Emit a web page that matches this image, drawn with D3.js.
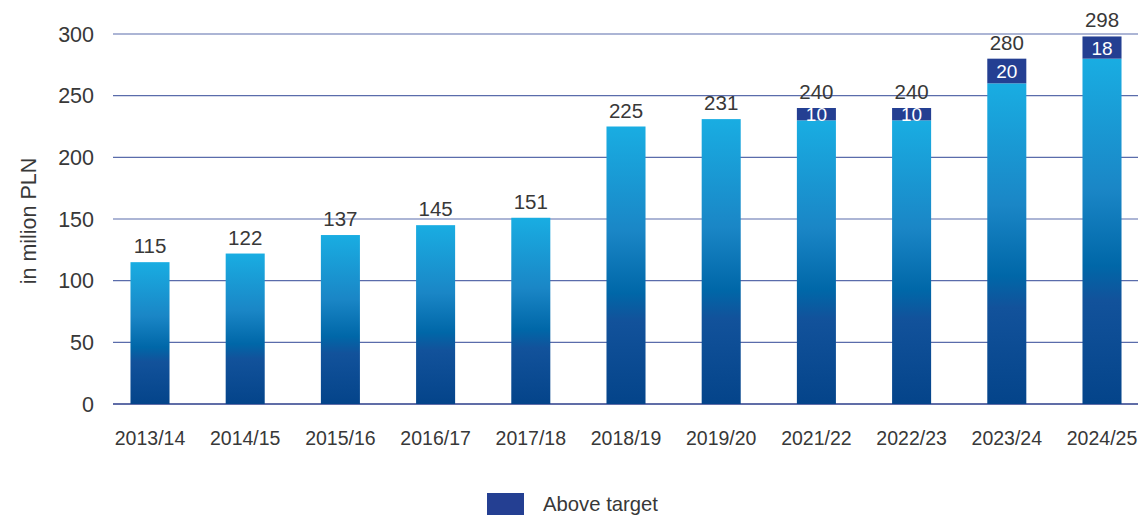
<!DOCTYPE html>
<html><head><meta charset="utf-8">
<script src="https://cdn.jsdelivr.net/npm/d3@7"></script>
<style>body{margin:0;background:#fff}text{font-family:"Liberation Sans",Arial,sans-serif}</style>
</head><body><svg id="c" width="1147" height="515"></svg>
<script>
const categories = ["2013/14","2014/15","2015/16","2016/17","2017/18","2018/19","2019/20","2021/22","2022/23","2023/24","2024/25"];
const totals = [115,122,137,145,151,225,231,240,240,280,298];
const aboveTarget = [0,0,0,0,0,0,0,10,10,20,18];
const yTicks = [0,50,100,150,200,250,300];

const svg = d3.select("#c");
const x = d3.scaleBand().domain(categories).range([102.4, 1149.6]).paddingInner(0.59).paddingOuter(0.295);
const y = d3.scaleLinear().domain([0,300]).range([404,34]);

const defs = svg.append("defs");
const g = defs.append("linearGradient").attr("id","bg").attr("x1",0).attr("y1",0).attr("x2",0).attr("y2",1);
[[0,"#19ade2"],[0.38,"#1a86c6"],[0.6,"#0067a8"],[0.7,"#12529b"],[1,"#04448a"]].forEach(s=>g.append("stop").attr("offset",s[0]).attr("stop-color",s[1]));

// gridlines
svg.append("g").selectAll("line").data(yTicks).join("line")
  .attr("x1",113).attr("x2",1138).attr("y1",d=>y(d)).attr("y2",d=>y(d))
  .attr("stroke",d=>d===0?"#2b3d8a":"#5a6cab").attr("stroke-width",d=>d===0?1.5:1.2);

// y tick labels
svg.append("g").selectAll("text").data(yTicks).join("text")
  .attr("x",94).attr("y",d=>y(d)+7.5).attr("text-anchor","end")
  .attr("font-size",21.5).attr("fill","#383838").text(d=>d);

const data = categories.map((c,i)=>({c, total:totals[i], above:aboveTarget[i], base:totals[i]-aboveTarget[i]}));

// base bars
svg.append("g").selectAll("rect").data(data).join("rect")
  .attr("x",d=>x(d.c)).attr("width",x.bandwidth())
  .attr("y",d=>y(d.base)).attr("height",d=>y(0)-y(d.base))
  .attr("fill","url(#bg)");

// above target segments
const ab = data.filter(d=>d.above>0);
svg.append("g").selectAll("rect").data(ab).join("rect")
  .attr("x",d=>x(d.c)).attr("width",x.bandwidth())
  .attr("y",d=>y(d.total)).attr("height",d=>y(d.base)-y(d.total))
  .attr("fill","#243f92");
svg.append("g").selectAll("text").data(ab).join("text")
  .attr("x",d=>x(d.c)+x.bandwidth()/2).attr("y",d=>(y(d.total)+y(d.base))/2+7)
  .attr("text-anchor","middle").attr("font-size",19).attr("fill","#fff").text(d=>d.above);

// value labels
svg.append("g").selectAll("text").data(data).join("text")
  .attr("x",d=>x(d.c)+x.bandwidth()/2).attr("y",d=>y(d.total)-9)
  .attr("text-anchor","middle").attr("font-size",20.5).attr("fill","#383838").text(d=>d.total);

// x labels
svg.append("g").selectAll("text").data(categories).join("text")
  .attr("x",d=>x(d)+x.bandwidth()/2).attr("y",445)
  .attr("text-anchor","middle").attr("font-size",19.5).attr("fill","#383838").text(d=>d);

// y axis title
svg.append("text").attr("transform","translate(36,221) rotate(-90)")
  .attr("text-anchor","middle").attr("font-size",21.5).attr("fill","#383838").text("in milion PLN");

// legend
svg.append("rect").attr("x",487).attr("y",493).attr("width",37).attr("height",22).attr("fill","#243f92");
svg.append("text").attr("x",543).attr("y",511).attr("font-size",20.3).attr("fill","#383838").text("Above target");
</script></body></html>
